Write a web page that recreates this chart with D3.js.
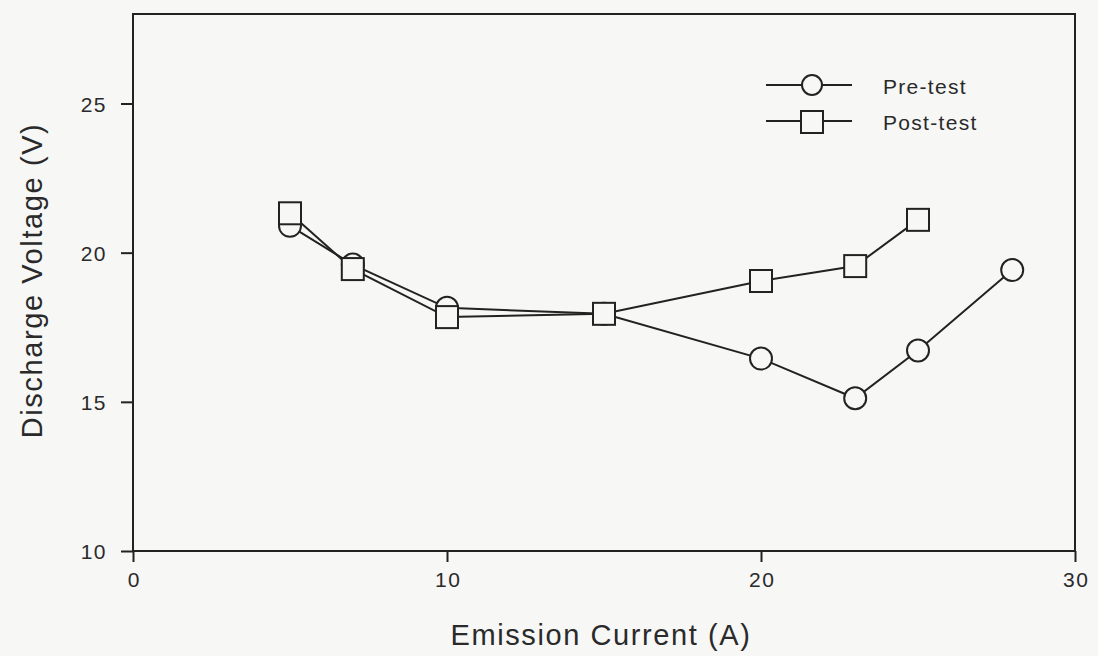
<!DOCTYPE html>
<html>
<head>
<meta charset="utf-8">
<script src="https://cdn.jsdelivr.net/npm/d3@7"></script>
<style>
  html, body { margin: 0; padding: 0; background: #f7f7f6; }
  svg { display: block; }
  text { font-family: "Liberation Sans", Arial, sans-serif; fill: #2a2a2a; }
</style>
</head>
<body>
<div id="chart"></div>
<script>
// Emission current (A) vs discharge voltage (V)
const preCurrent = [5, 7, 10, 15, 20, 23, 25, 28];
const preVoltage = [20.9, 19.6, 18.15, 17.95, 16.45, 15.12, 16.72, 19.42];
const postCurrent = [5, 7, 10, 15, 20, 23, 25];
const postVoltage = [21.32, 19.45, 17.84, 17.95, 19.05, 19.55, 21.1];
const xTicks = [0, 10, 20, 30];
const yTicks = [10, 15, 20, 25];
const seriesNames = ["Pre-test", "Post-test"];

const width = 1098;
const height = 656;
const margin = { top: 14, right: 23, bottom: 105, left: 133 };
const ink = "#222";
const paper = "#f7f7f6";

const svg = d3
  .select("#chart")
  .append("svg")
  .attr("width", width)
  .attr("height", height);

const x = d3
  .scaleLinear()
  .domain([0, 30])
  .range([margin.left, width - margin.right]);
const y = d3
  .scaleLinear()
  .domain([10, 28])
  .range([height - margin.bottom, margin.top]);

// frame
svg
  .append("rect")
  .attr("x", x(0))
  .attr("y", y(28))
  .attr("width", x(30) - x(0))
  .attr("height", y(10) - y(28))
  .attr("fill", "none")
  .attr("stroke", ink)
  .attr("stroke-width", 2);

// axes
const xAxis = svg
  .append("g")
  .attr("transform", `translate(0,${y(10)})`)
  .call(d3.axisBottom(x).tickValues(xTicks).tickSize(11).tickPadding(10));
const yAxis = svg
  .append("g")
  .attr("transform", `translate(${x(0)},0)`)
  .call(d3.axisLeft(y).tickValues(yTicks).tickSize(12).tickPadding(14));

[xAxis, yAxis].forEach((ax) => {
  ax.select(".domain").remove();
  ax.selectAll(".tick line").attr("stroke", ink).attr("stroke-width", 2);
  ax.selectAll(".tick text")
    .attr("fill", "#2a2a2a")
    .style("font-size", "21px")
    .style("letter-spacing", "1.5px")
    .style("font-family", '"Liberation Sans", Arial, sans-serif');
});
yAxis.selectAll(".tick text").attr("dy", "0.36em");
xAxis.selectAll(".tick text").attr("dx", "0.75px");

// axis titles
svg
  .append("text")
  .attr("x", (x(0) + x(30)) / 2 - 3)
  .attr("y", 645)
  .attr("text-anchor", "middle")
  .style("font-size", "29px")
  .style("letter-spacing", "1.6px")
  .text("Emission Current (A)");

svg
  .append("text")
  .attr("transform", `translate(42,${(y(10) + y(28)) / 2 - 2}) rotate(-90)`)
  .attr("text-anchor", "middle")
  .style("font-size", "29px")
  .style("letter-spacing", "1.6px")
  .text("Discharge Voltage (V)");

// series
const pre = preCurrent.map((c, i) => ({ x: c, y: preVoltage[i] }));
const post = postCurrent.map((c, i) => ({ x: c, y: postVoltage[i] }));
const line = d3
  .line()
  .x((d) => x(d.x))
  .y((d) => y(d.y));
const r = 11;

function drawSeries(data, shape) {
  const g = svg.append("g");
  g.append("path")
    .attr("d", line(data))
    .attr("fill", "none")
    .attr("stroke", ink)
    .attr("stroke-width", 2);
  if (shape === "circle") {
    g.selectAll("circle")
      .data(data)
      .enter()
      .append("circle")
      .attr("cx", (d) => x(d.x))
      .attr("cy", (d) => y(d.y))
      .attr("r", r)
      .attr("fill", paper)
      .attr("stroke", ink)
      .attr("stroke-width", 2);
  } else {
    g.selectAll("rect")
      .data(data)
      .enter()
      .append("rect")
      .attr("x", (d) => x(d.x) - r)
      .attr("y", (d) => y(d.y) - r)
      .attr("width", 2 * r)
      .attr("height", 2 * r)
      .attr("fill", paper)
      .attr("stroke", ink)
      .attr("stroke-width", 2);
  }
}

drawSeries(pre, "circle");
drawSeries(post, "square");

// legend
const legend = svg.append("g").attr("transform", "translate(766,85)");
seriesNames.forEach((name, i) => {
  const row = legend.append("g").attr("transform", `translate(0,${i * 36})`);
  row.append("line")
    .attr("x1", 0)
    .attr("x2", 86)
    .attr("stroke", ink)
    .attr("stroke-width", 2);
  if (i === 0) {
    row.append("circle")
      .attr("cx", 46)
      .attr("cy", 0)
      .attr("r", 10)
      .attr("fill", paper)
      .attr("stroke", ink)
      .attr("stroke-width", 2);
  } else {
    row.append("rect")
      .attr("x", 35)
      .attr("y", -10)
      .attr("width", 22)
      .attr("height", 22)
      .attr("fill", paper)
      .attr("stroke", ink)
      .attr("stroke-width", 2);
  }
  row.append("text")
    .attr("x", 117)
    .attr("y", 9)
    .style("font-size", "21px")
    .style("letter-spacing", "1.3px")
    .text(name);
});
</script>
</body>
</html>
